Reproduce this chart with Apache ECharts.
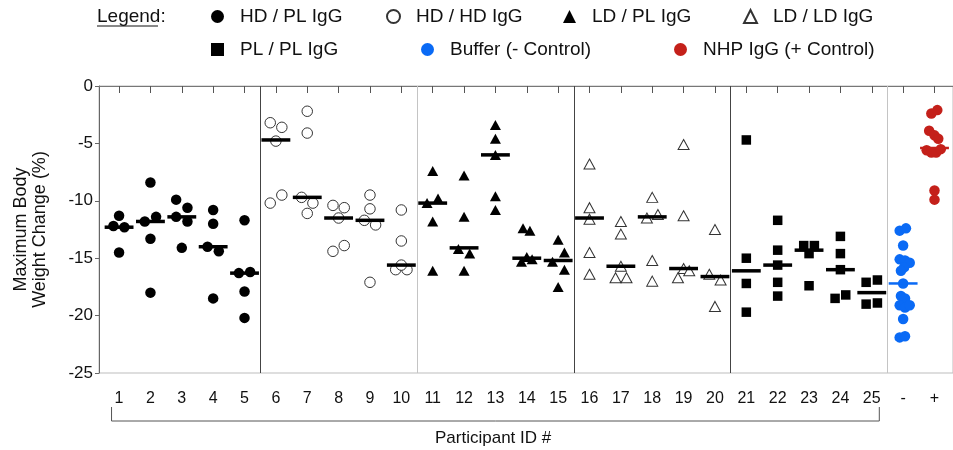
<!DOCTYPE html>
<html>
<head>
<meta charset="utf-8">
<script src="https://cdn.jsdelivr.net/npm/echarts@6/dist/echarts.min.js"></script>
<style>
  html, body { margin: 0; padding: 0; background: #fff; }
  #chart { width: 953px; height: 450px; }
</style>
</head>
<body>
<div id="chart"></div>
<script>
// x-axis labels, one per column
const participants = ['1', '2', '3', '4', '5', '6', '7', '8', '9', '10', '11', '12', '13',
  '14', '15', '16', '17', '18', '19', '20', '21', '22', '23', '24', '25', '-', '+'];

const groupNames = ['HD / PL IgG', 'HD / HD IgG', 'LD / PL IgG', 'LD / LD IgG', 'PL / PL IgG',
  'Buffer (- Control)', 'NHP IgG (+ Control)'];

// group index of each column
const groupOf = [0, 0, 0, 0, 0, 1, 1, 1, 1, 1, 2, 2, 2, 2, 2, 3, 3, 3, 3, 3, 4, 4, 4, 4, 4, 5, 6];

// maximum body weight change (%) per animal, per column
const weightChange = [
  [-11.3, -12.2, -12.3, -14.5],
  [-8.4, -11.8, -11.4, -13.3, -18.0],
  [-9.9, -10.6, -11.4, -11.8, -14.1],
  [-10.8, -12.0, -14.0, -14.4, -18.5],
  [-11.7, -16.3, -16.2, -17.9, -20.2],
  [-3.2, -3.6, -4.8, -10.2, -9.5],
  [-2.2, -4.1, -9.7, -10.2, -11.1],
  [-10.4, -10.6, -11.5, -13.9, -14.4],
  [-9.5, -10.7, -11.7, -12.1, -17.1],
  [-10.8, -13.5, -16.0, -16.0, -15.6],
  [-7.4, -10.2, -9.8, -11.8, -16.1],
  [-7.8, -11.4, -14.2, -14.6, -16.1],
  [-3.4, -4.6, -6.0, -9.6, -10.8],
  [-12.4, -12.6, -15.3, -15.1, -14.9],
  [-13.4, -14.5, -15.3, -16.0, -17.5],
  [-6.8, -10.6, -11.6, -14.5, -16.4],
  [-11.8, -12.9, -15.7, -16.7, -16.7],
  [-9.7, -11.5, -11.2, -15.2, -17.0],
  [-5.1, -11.3, -15.9, -16.1, -16.7],
  [-12.5, -16.4, -16.9, -19.2],
  [-4.7, -15.0, -17.2, -19.7],
  [-11.7, -14.3, -15.6, -17.1, -18.3],
  [-13.9, -13.9, -14.6, -17.4],
  [-13.1, -14.6, -16.0, -18.5, -18.2],
  [-17.1, -16.9, -19.0, -18.9],
  [-12.6, -12.4, -13.9, -15.1, -15.2, -15.4, -15.8, -16.1, -17.2, -18.3, -18.5, -19.1, -19.3,
   -19.1, -20.3, -21.9, -21.8],
  [-2.4, -2.1, -3.9, -4.3, -4.6, -5.6, -5.8, -5.8, -5.5, -9.1, -9.9]
];

// horizontal scatter offset of each animal within its column (column widths)
const jitter = [
  [0, -0.18, 0.17, 0],
  [0, -0.18, 0.18, 0, 0],
  [-0.18, 0.18, -0.18, 0.18, 0],
  [0, 0, -0.18, 0.18, 0],
  [0, -0.18, 0.18, 0, 0],
  [-0.18, 0.19, 0, -0.18, 0.19],
  [0, 0, -0.18, 0.18, 0],
  [-0.18, 0.18, 0, 0.18, -0.18],
  [0, 0, -0.18, 0.18, 0],
  [0, 0, -0.18, 0.18, 0],
  [0, -0.18, 0.17, 0, 0],
  [0, 0, -0.18, 0.18, 0],
  [0, 0, 0, 0, 0],
  [-0.12, 0.1, -0.17, 0.17, 0],
  [0, 0.2, -0.18, 0.2, 0],
  [0, 0, 0, 0, 0],
  [0, 0, 0, -0.17, 0.18],
  [0, -0.17, 0.18, 0, 0],
  [0, 0, 0, 0.18, -0.18],
  [0, -0.18, 0.18, 0],
  [0, 0, 0, 0],
  [0, 0, 0, 0, 0],
  [-0.17, 0.17, 0, 0],
  [0, 0, 0, -0.17, 0.17],
  [-0.18, 0.18, -0.18, 0.18],
  [-0.11, 0.09, 0, -0.11, 0.06, 0.21, 0.03, -0.07, 0, -0.07, 0.06, -0.11, 0.06, 0.21, 0, -0.11, 0.06],
  [-0.1, 0.09, -0.17, 0, 0.12, -0.25, -0.1, 0.05, 0.2, 0, 0]
];

// median line per column
const medians = [-12.3, -11.8, -11.4, -14.0, -16.3, -4.7, -9.7, -11.5, -11.7, -15.6,
  -10.2, -14.1, -6.0, -15.0, -15.2, -11.5, -15.7, -11.4, -15.9, -16.6,
  -16.1, -15.6, -14.3, -16.0, -18.0, -17.2, -5.4];

const yTicks = [0, -5, -10, -15, -20, -25];

const FONT = 'Liberation Sans, Arial, sans-serif';
const BLUE = '#0a6af5';
const RED = '#c4201a';

const groupStyle = [
  { symbol: 'circle', size: 10.5, item: { color: '#000' } },
  { symbol: 'circle', size: 10.5, item: { color: '#fff', borderColor: '#333', borderWidth: 1 } },
  { symbol: 'triangle', size: [11, 10], item: { color: '#000' } },
  { symbol: 'triangle', size: [11, 10], item: { color: '#fff', borderColor: '#333', borderWidth: 1 } },
  { symbol: 'rect', size: 9.5, item: { color: '#000' } },
  { symbol: 'circle', size: 10.5, item: { color: BLUE } },
  { symbol: 'circle', size: 10.5, item: { color: RED } }
];
const medianColor = ['#000', '#000', '#000', '#000', '#000', BLUE, RED];

const chart = echarts.init(document.getElementById('chart'), null, { renderer: 'canvas' });

// scatter series, one per group
const scatterSeries = groupNames.map((name, g) => {
  const data = [];
  groupOf.forEach((gi, col) => {
    if (gi !== g) return;
    weightChange[col].forEach((v, k) => data.push([col + 1 + jitter[col][k], v]));
  });
  return {
    name,
    type: 'scatter',
    data,
    symbol: groupStyle[g].symbol,
    symbolSize: groupStyle[g].size,
    itemStyle: Object.assign({ opacity: 1 }, groupStyle[g].item),
    z: 3,
    silent: true
  };
});

// vertical separators between groups
scatterSeries[0].markLine = {
  silent: true,
  symbol: ['none', 'none'],
  label: { show: false },
  data: [
    { xAxis: 5.5, lineStyle: { color: '#444', type: 'solid', width: 1 } },
    { xAxis: 10.5, lineStyle: { color: '#c4c4c4', type: 'solid', width: 1 } },
    { xAxis: 15.5, lineStyle: { color: '#444', type: 'solid', width: 1 } },
    { xAxis: 20.5, lineStyle: { color: '#444', type: 'solid', width: 1 } },
    { xAxis: 25.5, lineStyle: { color: '#c4c4c4', type: 'solid', width: 1 } }
  ]
};

const medianSeries = {
  type: 'custom',
  silent: true,
  z: 4,
  data: medians.map((m, i) => [i + 1, m, groupOf[i]]),
  encode: { x: 0, y: 1 },
  renderItem: (params, api) => {
    const x = api.value(0), y = api.value(1), g = api.value(2);
    const p1 = api.coord([x - 0.46, y]);
    const p2 = api.coord([x + 0.46, y]);
    return {
      type: 'line',
      shape: { x1: p1[0], y1: p1[1], x2: p2[0], y2: p2[1] },
      style: { stroke: medianColor[g], lineWidth: g >= 5 ? 2.5 : 3.5 }
    };
  }
};

// bracket under participants 1-25
const bracketSeries = {
  type: 'custom',
  silent: true,
  clip: false,
  data: [[0.76, 25.24]],
  encode: { x: [0, 1] },
  renderItem: (params, api) => {
    const a = api.coord([api.value(0), -25]);
    const b = api.coord([api.value(1), -25]);
    const top = a[1] + 34, bot = a[1] + 48;
    return {
      type: 'polyline',
      shape: { points: [[a[0], top], [a[0], bot], [b[0], bot], [b[0], top]] },
      style: { stroke: '#555', lineWidth: 1, fill: null }
    };
  }
};

const legendPos = [
  { left: 206, top: 2 }, { left: 381, top: 2 }, { left: 558, top: 2 }, { left: 738, top: 2 },
  { left: 206, top: 35 }, { left: 416, top: 35 }, { left: 669, top: 35 }
];

const option = {
  animation: false,
  textStyle: { fontFamily: FONT },
  grid: { left: 99, right: -1, top: 86, bottom: 77, show: true, borderColor: '#bdbdbd', borderWidth: 1 },
  legend: groupNames.map((name, g) => ({
    data: [name],
    left: legendPos[g].left,
    top: legendPos[g].top,
    itemWidth: 13,
    itemHeight: 13,
    selectedMode: false,
    textStyle: { fontFamily: FONT, fontSize: 19, color: '#111', padding: [0, 0, 0, 11] }
  })),
  graphic: [
    { type: 'text', left: 97, top: 7, style: { text: 'Legend:', font: '19px ' + FONT, fill: '#111' } },
    { type: 'line', shape: { x1: 97, y1: 26, x2: 158, y2: 26 }, style: { stroke: '#111', lineWidth: 1 } },
    { type: 'text', left: 435, top: 430, style: { text: 'Participant ID #', font: '17px ' + FONT, fill: '#111' } }
  ],
  xAxis: {
    type: 'value',
    min: 0.36,
    max: 27.59,
    axisLine: { show: true, lineStyle: { color: '#777' } },
    splitLine: { show: false },
    axisTick: { show: true, customValues: participants.map((p, i) => i + 1), length: 7, lineStyle: { color: '#555' } },
    axisLabel: {
      customValues: participants.map((p, i) => i + 1),
      formatter: v => participants[Math.round(v) - 1],
      fontSize: 16,
      color: '#111',
      margin: 18
    }
  },
  yAxis: {
    type: 'value',
    min: -25,
    max: 0,
    interval: 5,
    name: 'Maximum Body\nWeight Change (%)',
    nameLocation: 'middle',
    nameRotate: 90,
    nameGap: 49,
    nameTextStyle: { fontSize: 18, color: '#111', lineHeight: 19 },
    axisLine: { show: true, lineStyle: { color: '#666' } },
    splitLine: { show: false },
    axisTick: { show: true, length: 4, lineStyle: { color: '#666' } },
    axisLabel: { fontSize: 17, color: '#111', margin: 6, customValues: yTicks }
  },
  series: [...scatterSeries, medianSeries, bracketSeries]
};

chart.setOption(option);
window.addEventListener('resize', () => chart.resize());
</script>
</body>
</html>
